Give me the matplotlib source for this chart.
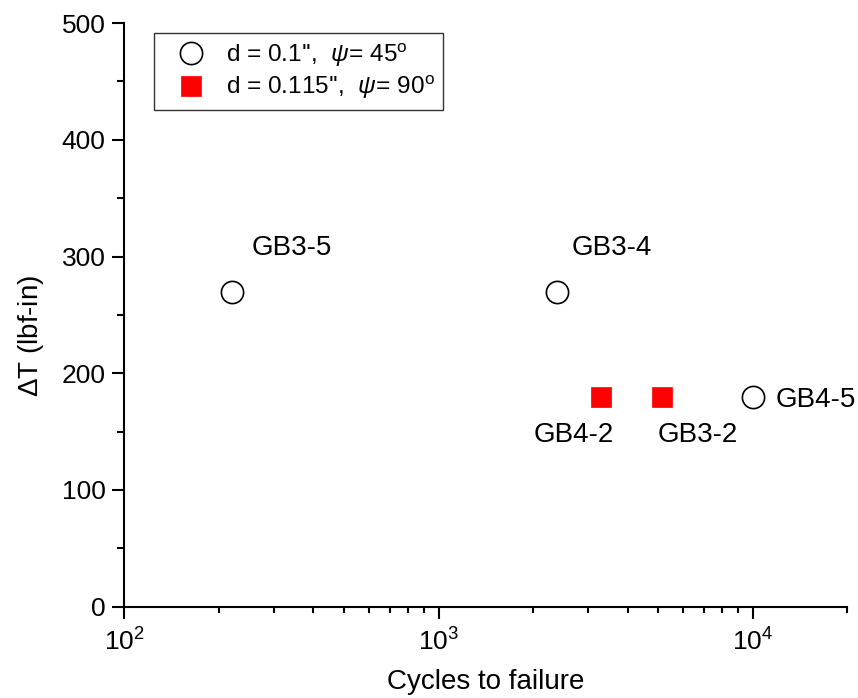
import numpy as np
import matplotlib
matplotlib.use("Agg")
import matplotlib.pyplot as plt
from matplotlib.ticker import LogLocator, MultipleLocator

plt.rcParams['font.family'] = ['Liberation Sans', 'DejaVu Sans']
plt.rcParams['mathtext.fontset'] = 'custom'
plt.rcParams['mathtext.rm'] = 'Liberation Sans'
plt.rcParams['mathtext.it'] = 'Liberation Sans:italic'
plt.rcParams['mathtext.bf'] = 'Liberation Sans:bold'

# data
names_45 = ["GB3-5", "GB3-4", "GB4-5"]
cycles_45 = [220, 2380, 10000]
torque_45 = [270, 270, 180]

names_90 = ["GB4-2", "GB3-2"]
cycles_90 = [3300, 5130]
torque_90 = [180, 180]

# label offsets in points (dx, dy, ha)
offsets = {
    "GB3-5": (14.4, 26.4, "left"),
    "GB3-4": (10.8, 26.4, "left"),
    "GB4-5": (16.8, -7.2, "left"),
    "GB4-2": (8.9, -32.4, "right"),
    "GB3-2": (-3.2, -32.4, "left"),
}

fig = plt.figure(figsize=(8.58, 6.98), dpi=100)
ax = fig.add_axes([0.1449, 0.1308, 0.8426, 0.8362])

ax.plot(cycles_45, torque_45, linestyle='none', marker='o', markersize=16,
        markerfacecolor='white', markeredgecolor='black', markeredgewidth=1.2,
        label=r"d = 0.1'',  $\it{\psi}$= 45$^{\rm o}$")
ax.plot(cycles_90, torque_90, linestyle='none', marker='s', markersize=15,
        markerfacecolor='red', markeredgecolor='red', markeredgewidth=0.5,
        label=r"d = 0.115'',  $\it{\psi}$= 90$^{\rm o}$")

for n, x, y in zip(names_45 + names_90, cycles_45 + cycles_90, torque_45 + torque_90):
    dx, dy, ha = offsets[n]
    ax.annotate(n, (x, y), xytext=(dx, dy), textcoords='offset points',
                ha=ha, va='baseline', fontsize=20)

ax.set_xscale('log')
ax.set_xlim(100, 20000)
ax.set_ylim(0, 500)
ax.yaxis.set_major_locator(MultipleLocator(100))
ax.yaxis.set_minor_locator(MultipleLocator(50))
ax.xaxis.set_major_locator(LogLocator(base=10, numticks=10))
ax.xaxis.set_minor_locator(LogLocator(base=10, subs=np.arange(2, 10), numticks=20))

for s in ['top', 'right']:
    ax.spines[s].set_visible(False)
for s in ['left', 'bottom']:
    ax.spines[s].set_linewidth(1.5)

ax.tick_params(which='major', direction='out', length=8.6, width=1.5,
               labelsize=19, pad=5)
ax.tick_params(which='minor', direction='out', length=5, width=1.5)
ax.tick_params(axis='x', which='minor', length=4.5)
ax.tick_params(axis='x', which='major', pad=7)

ax.set_xlabel("Cycles to failure", fontsize=20, labelpad=10)
ax.set_ylabel(r"$\Delta$T (lbf-in)", fontsize=20, labelpad=11)
ax.yaxis.label.set_y(0.464)

leg = ax.legend(loc='upper left', bbox_to_anchor=(0.041, 0.983),
                borderaxespad=0, fontsize=17.6, frameon=True, fancybox=False,
                handlelength=2.35, handletextpad=0.25, labelspacing=0.22,
                borderpad=0.35, numpoints=1)
leg.get_frame().set_edgecolor('black')
leg.get_frame().set_linewidth(1.0)

fig.savefig("out.png", dpi=100)
